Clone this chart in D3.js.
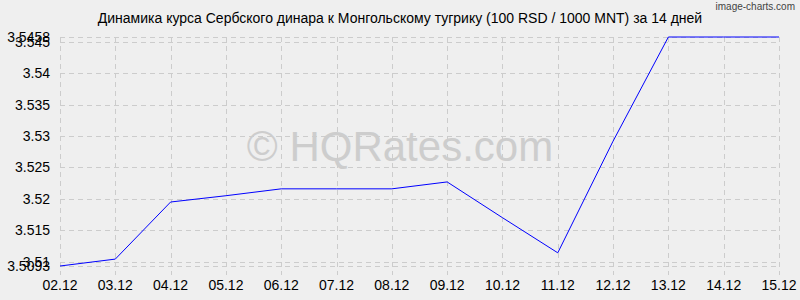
<!DOCTYPE html>
<html>
<head>
<meta charset="utf-8">
<script src="https://cdn.jsdelivr.net/npm/d3@7"></script>
<style>
  body { margin:0; background:#efefef; }
  svg { display:block; font-family:"Liberation Sans", Arial, sans-serif; }
</style>
</head>
<body>
<div id="chart"></div>
<script>
var svgW = 800,
    svgH = 300;

var dates = ['02.12','03.12','04.12','05.12','06.12','07.12','08.12','09.12','10.12','11.12','12.12','13.12','14.12','15.12'];
var rates = [3.5093, 3.5104, 3.5195, 3.5205, 3.5216, 3.5216, 3.5216, 3.5227, 3.5170, 3.5114, 3.5292, 3.5458, 3.5458, 3.5458];
var yTicks = [3.51, 3.515, 3.52, 3.525, 3.53, 3.535, 3.54, 3.545];
var yMin = 3.5093, yMax = 3.5458;
var title = 'Динамика курса Сербского динара к Монгольскому тугрику (100 RSD / 1000 MNT) за 14 дней';

var pLeft = 60, pRight = 779, pTop = 37, pBottom = 266;

var x = d3.scalePoint().domain(dates).range([pLeft, pRight]);
var y = d3.scaleLinear().domain([yMin, yMax]).range([pBottom, pTop]);

var svg = d3.select('#chart')
  .append('svg')
    .attr('width', svgW)
    .attr('height', svgH);

svg.append('rect')
  .attr('width', svgW).attr('height', svgH)
  .attr('fill', '#efefef');

// watermark
svg.append('text')
  .attr('x', 400).attr('y', 161)
  .attr('text-anchor', 'middle')
  .attr('font-size', 42)
  .attr('fill', '#cdcdcd')
  .text('© HQRates.com');

// grid
var grid = svg.append('g')
  .attr('stroke', '#cccccc')
  .attr('stroke-dasharray', '5,4')
  .attr('shape-rendering', 'crispEdges');

grid.selectAll('.hl')
  .data(yTicks.concat([yMin, yMax]))
  .enter()
  .append('line')
    .attr('x1', pLeft).attr('x2', pRight)
    .attr('y1', function(d){ return Math.round(y(d)) + 0.5; })
    .attr('y2', function(d){ return Math.round(y(d)) + 0.5; });

grid.selectAll('.vl')
  .data(dates)
  .enter()
  .append('line')
    .attr('x1', function(d){ return Math.round(x(d)) + 0.5; })
    .attr('x2', function(d){ return Math.round(x(d)) + 0.5; })
    .attr('y1', pTop).attr('y2', pBottom + 9);

// y labels
var yLabels = svg.append('g')
  .attr('font-size', 14)
  .attr('fill', '#000')
  .attr('text-anchor', 'end');

yLabels.selectAll('text')
  .data(yTicks.concat([yMin, yMax]))
  .enter()
  .append('text')
    .attr('x', 50)
    .attr('y', function(d){ return y(d) + 5; })
    .text(function(d){ return String(d); });

// x labels
svg.append('g')
  .attr('font-size', 14)
  .attr('fill', '#000')
  .attr('text-anchor', 'middle')
  .selectAll('text')
  .data(dates)
  .enter()
  .append('text')
    .attr('x', function(d){ return x(d); })
    .attr('y', 290)
    .text(function(d){ return d; });

// line
var line = d3.line()
  .x(function(d, i){ return x(dates[i]); })
  .y(function(d){ return y(d); });

svg.append('path')
  .datum(rates)
  .attr('d', line)
  .attr('fill', 'none')
  .attr('stroke', '#0000ff')
  .attr('stroke-width', 1);

// title
svg.append('text')
  .attr('x', 400).attr('y', 23)
  .attr('text-anchor', 'middle')
  .attr('font-size', 14)
  .attr('fill', '#000')
  .text(title);

svg.append('text')
  .attr('x', 795).attr('y', 10)
  .attr('text-anchor', 'end')
  .attr('font-size', 10)
  .attr('fill', '#444')
  .text('image-charts.com');
</script>
</body>
</html>
